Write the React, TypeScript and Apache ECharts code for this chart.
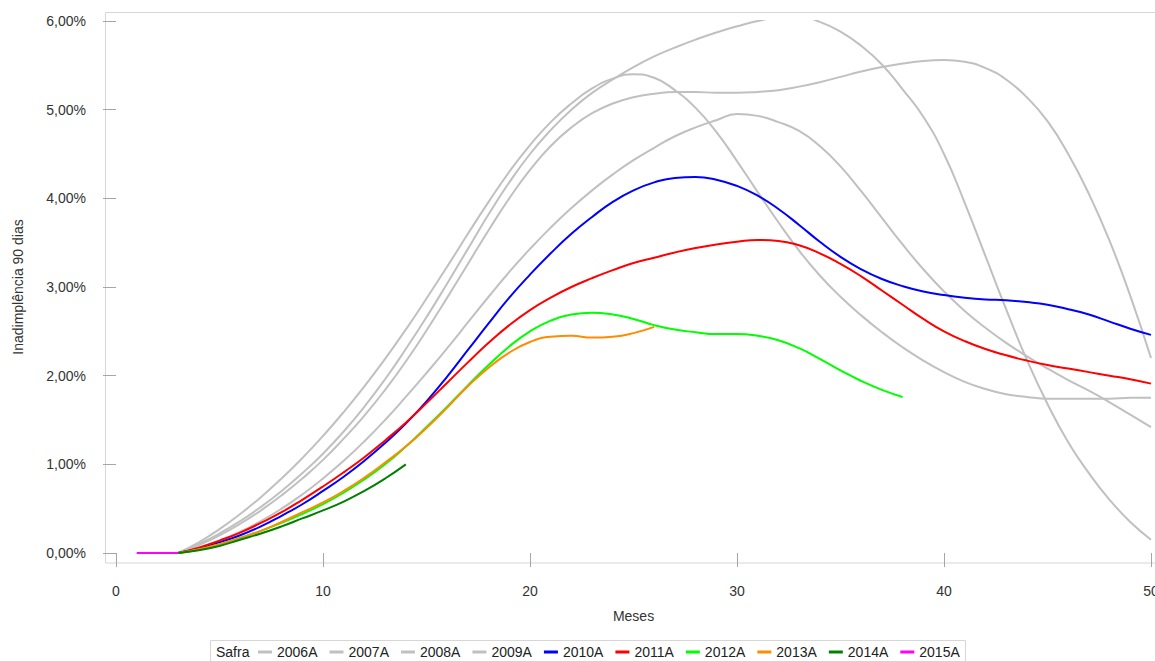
import React, { useEffect, useRef } from "react";
import * as echarts from "echarts";

// Safra (vintage) names
const safras = ["2006A", "2007A", "2008A", "2009A", "2010A", "2011A", "2012A", "2013A", "2014A", "2015A"];
const colors = ["#c0c0c0", "#c0c0c0", "#c0c0c0", "#c0c0c0", "#0000ff", "#ff0000", "#00ff00", "#ff8c00", "#008000", "#ff00ff"];

// first month of each series
const starts = [3, 3, 3, 3, 3, 3, 3, 3, 3, 1];

// values in % (one per month, starting at the month in `starts`)
const v2006 = [0, 0.12, 0.27, 0.44, 0.63, 0.84, 1.07, 1.32, 1.59, 1.88, 2.19, 2.52, 2.87, 3.23, 3.6, 3.96, 4.3, 4.6, 4.86, 5.07, 5.24, 5.35, 5.4, 5.36, 5.22, 5.02, 4.75, 4.42, 4.07, 3.73, 3.41, 3.13, 2.89, 2.68, 2.49, 2.32, 2.17, 2.04, 1.93, 1.85, 1.79, 1.76, 1.74, 1.74, 1.74, 1.74, 1.75, 1.75];
const v2007 = [0, 0.1, 0.22, 0.36, 0.52, 0.7, 0.9, 1.12, 1.37, 1.65, 1.96, 2.3, 2.66, 3.04, 3.43, 3.82, 4.18, 4.5, 4.77, 5.0, 5.19, 5.34, 5.48, 5.6, 5.7, 5.79, 5.87, 5.94, 6.0, 6.04, 6.05, 5.99, 5.88, 5.72, 5.51, 5.23, 4.92, 4.5, 3.95, 3.35, 2.75, 2.18, 1.68, 1.25, 0.9, 0.6, 0.35, 0.15];
const v2008 = [0, 0.09, 0.2, 0.33, 0.48, 0.65, 0.84, 1.05, 1.29, 1.55, 1.84, 2.16, 2.51, 2.88, 3.26, 3.64, 4.0, 4.32, 4.59, 4.8, 4.96, 5.07, 5.14, 5.18, 5.2, 5.2, 5.19, 5.19, 5.2, 5.22, 5.26, 5.31, 5.37, 5.43, 5.48, 5.52, 5.55, 5.56, 5.54, 5.47, 5.34, 5.14, 4.87, 4.5, 4.05, 3.52, 2.9, 2.2];
const v2009 = [0, 0.06, 0.14, 0.24, 0.36, 0.5, 0.66, 0.84, 1.04, 1.26, 1.5, 1.76, 2.03, 2.31, 2.6, 2.89, 3.17, 3.43, 3.67, 3.89, 4.09, 4.27, 4.43, 4.57, 4.7, 4.8, 4.88, 4.95, 4.93, 4.86, 4.76, 4.59, 4.36, 4.08, 3.78, 3.48, 3.2, 2.95, 2.73, 2.54, 2.37, 2.22, 2.08, 1.95, 1.83, 1.7, 1.56, 1.42];
const v2010 = [0, 0.05, 0.12, 0.2, 0.3, 0.42, 0.55, 0.7, 0.86, 1.04, 1.24, 1.46, 1.71, 1.99, 2.29, 2.59, 2.88, 3.14, 3.38, 3.6, 3.79, 3.96, 4.09, 4.18, 4.23, 4.24, 4.21, 4.14, 4.03, 3.88, 3.7, 3.51, 3.34, 3.2, 3.09, 3.01, 2.95, 2.91, 2.88, 2.86, 2.85, 2.83, 2.8, 2.75, 2.69, 2.61, 2.53, 2.46];
const v2011 = [0, 0.06, 0.14, 0.23, 0.34, 0.46, 0.6, 0.75, 0.91, 1.08, 1.27, 1.47, 1.69, 1.92, 2.15, 2.37, 2.57, 2.74, 2.88, 3.0, 3.1, 3.19, 3.27, 3.33, 3.39, 3.44, 3.48, 3.51, 3.53, 3.52, 3.47, 3.38, 3.26, 3.12, 2.96, 2.8, 2.64, 2.5, 2.39, 2.3, 2.23, 2.17, 2.12, 2.08, 2.04, 2.0, 1.96, 1.91];
const v2012 = [0, 0.04, 0.1, 0.17, 0.25, 0.34, 0.44, 0.55, 0.68, 0.83, 1.0, 1.2, 1.42, 1.65, 1.89, 2.12, 2.33, 2.5, 2.62, 2.69, 2.71, 2.69, 2.64, 2.57, 2.52, 2.49, 2.47, 2.47, 2.45, 2.4, 2.31, 2.19, 2.06, 1.94, 1.84, 1.76];
const v2013 = [0, 0.04, 0.1, 0.17, 0.25, 0.35, 0.46, 0.57, 0.7, 0.85, 1.02, 1.2, 1.41, 1.64, 1.88, 2.09, 2.26, 2.38, 2.44, 2.45, 2.43, 2.44, 2.48, 2.55];
const v2014 = [0, 0.03, 0.08, 0.15, 0.22, 0.3, 0.39, 0.48, 0.58, 0.7, 0.84, 1.0];
const v2015 = [0, 0, 0];

const allValues = [v2006, v2007, v2008, v2009, v2010, v2011, v2012, v2013, v2014, v2015];

const xTicks = { min: 0, max: 50, interval: 10 };
const yTicks = { min: 0, max: 6, interval: 1 };

const FONT = "'Liberation Sans', Arial, sans-serif";

export default function App() {
  const ref = useRef<HTMLDivElement>(null);

  useEffect(() => {
    if (!ref.current) return;
    const chart = echarts.init(ref.current, undefined, { renderer: "svg" });

    const series = safras.map((name, i) => ({
      name,
      type: "line",
      data: allValues[i].map((v, k) => [starts[i] + k, v]),
      smooth: 0.5,
      showSymbol: false,
      symbol: "none",
      clip: true,
      color: colors[i],
      lineStyle: { color: colors[i], width: 2 },
      z: i < 4 ? 2 : 3,
    }));

    chart.setOption({
      animation: false,
      backgroundColor: "#ffffff",
      textStyle: { fontFamily: FONT },
      grid: { left: 116, right: 4, top: 21, bottom: 108, containLabel: false, outerBoundsMode: "none" },
      xAxis: {
        type: "value",
        min: xTicks.min,
        max: xTicks.max,
        interval: xTicks.interval,
        offset: 10,
        name: "Meses",
        nameLocation: "middle",
        nameGap: 46,
        nameTextStyle: { fontSize: 14, color: "#333333", fontFamily: FONT },
        axisLine: { show: false },
        axisTick: { show: true, length: 14, lineStyle: { color: "#a6a6a6", width: 1 } },
        axisLabel: { fontSize: 14, color: "#333333", margin: 21, fontFamily: FONT },
        splitLine: { show: false },
      },
      yAxis: {
        type: "value",
        min: yTicks.min,
        max: yTicks.max,
        interval: yTicks.interval,
        offset: 11,
        name: "Inadimplência 90 dias",
        nameLocation: "middle",
        nameGap: 80,
        nameRotate: 90,
        nameTextStyle: { fontSize: 14, color: "#333333", fontFamily: FONT },
        axisLine: { show: false },
        axisTick: { show: true, length: 13, lineStyle: { color: "#a6a6a6", width: 1 } },
        axisLabel: {
          fontSize: 14,
          color: "#333333",
          margin: 19,
          fontFamily: FONT,
          formatter: (v: number) => v.toFixed(2).replace(".", ",") + "%",
        },
        splitLine: { show: false },
      },
      legend: {
        data: safras,
        left: 258,
        top: 645,
        padding: 0,
        icon: "rect",
        itemWidth: 14,
        itemHeight: 3,
        itemGap: 12,
        textStyle: { fontSize: 14, color: "#222222", fontFamily: FONT },
        selectedMode: false,
      },
      graphic: [
        {
          type: "rect",
          silent: true,
          z: 0,
          shape: { x: 105.5, y: 12.5, width: 1100, height: 550.5 },
          style: { fill: "none", stroke: "#d6d6d6", lineWidth: 1 },
        },
        {
          type: "rect",
          silent: true,
          shape: { x: 210.5, y: 640.5, width: 755, height: 30 },
          style: { fill: "none", stroke: "#d6d6d6", lineWidth: 1 },
        },
        {
          type: "text",
          silent: true,
          x: 216,
          y: 652,
          style: {
            text: "Safra",
            fontSize: 14,
            fill: "#222222",
            fontFamily: FONT,
            verticalAlign: "middle",
            align: "left",
          },
        },
      ],
      series,
    });

    return () => chart.dispose();
  }, []);

  return (
    <div
      ref={ref}
      style={{ position: "fixed", left: 0, top: 0, width: 1155, height: 661, background: "#fff" }}
    />
  );
}
